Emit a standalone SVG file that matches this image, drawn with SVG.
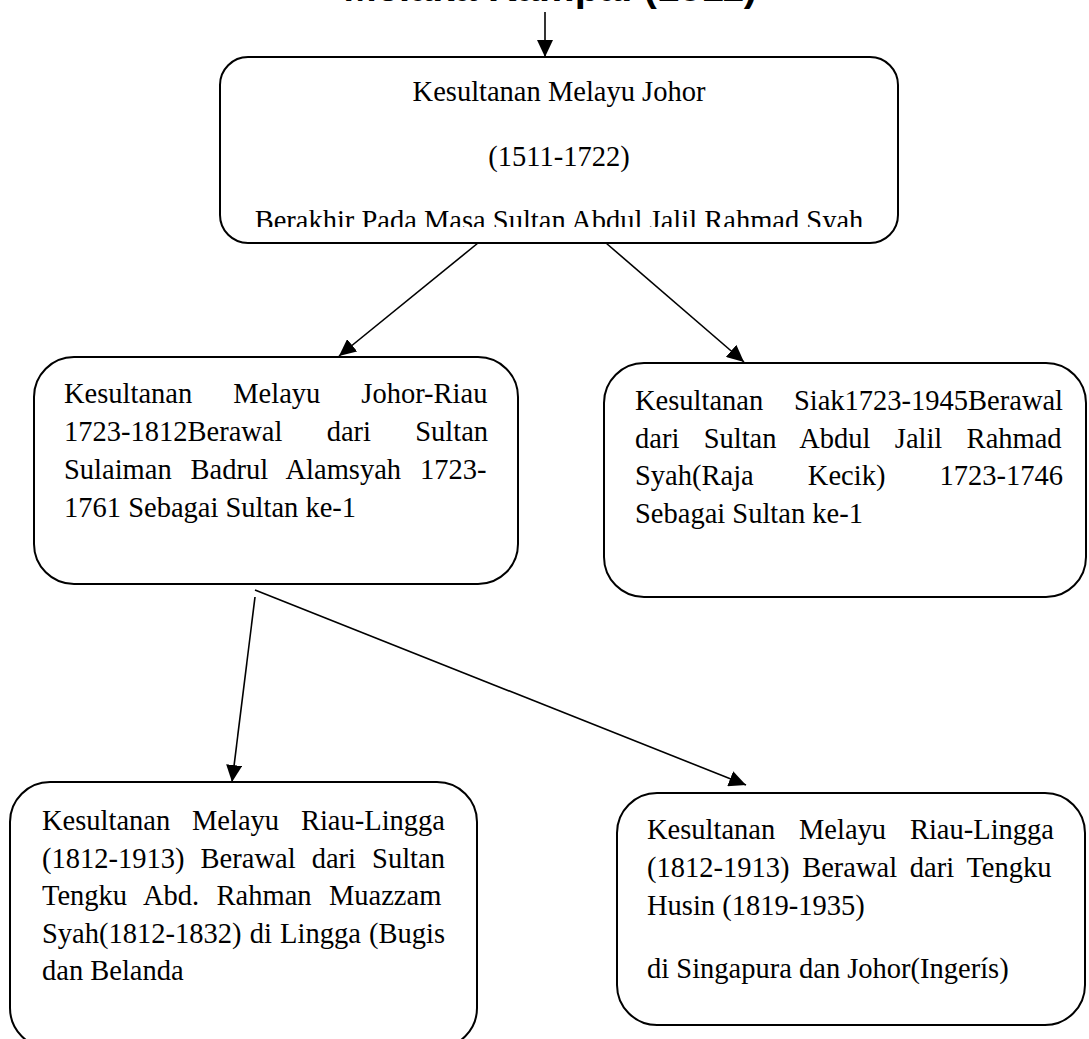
<svg xmlns="http://www.w3.org/2000/svg" width="1089" height="1039" viewBox="0 0 1089 1039">
<defs>
<style>
.box{fill:#fff;stroke:#000;stroke-width:2}
.t{font-family:"Liberation Serif","Times New Roman",serif;font-size:28.5px;fill:#000}
.c{stroke:#000;stroke-width:1.6;fill:none;marker-end:url(#ah)}
.h{font-family:"Liberation Sans",Arial,sans-serif;font-weight:bold;font-size:40px;fill:#000}
</style>
<marker id="ah" markerUnits="userSpaceOnUse" markerWidth="17" markerHeight="16" refX="17" refY="8" orient="auto" viewBox="0 0 17 16"><path d="M0,0 L17,8 L0,16 z" fill="#000"/></marker>
<clipPath id="clipTop"><rect x="220" y="57" width="678" height="170"/></clipPath>
</defs>
<rect width="1089" height="1039" fill="#fff"/>
<text class="h" x="757" y="1" text-anchor="end">Melaka Kampai (1511)</text>
<g id="connectors">
<path class="c" d="M545,12 L545,57"/>
<path class="c" d="M478,243 L339,356"/>
<path class="c" d="M606,243 L744,362"/>
<path class="c" d="M255,597 L232,782"/>
<path class="c" d="M255,590 L746,785"/>
</g>
<g id="node-johor">
<rect class="box" x="220" y="57" width="678" height="186" rx="28"/>
<text class="t" x="559" y="101" text-anchor="middle">Kesultanan Melayu Johor</text>
<text class="t" x="559" y="166" text-anchor="middle">(1511-1722)</text>
<text class="t" x="559" y="230" text-anchor="middle" clip-path="url(#clipTop)">Berakhir Pada Masa Sultan Abdul Jalil Rahmad Syah</text>
</g>
<g id="node-johor-riau">
<rect class="box" x="34" y="357" width="484" height="227" rx="40"/>
<text class="t" x="64" y="403" word-spacing="33.9">Kesultanan Melayu Johor-Riau</text>
<text class="t" x="64" y="441" word-spacing="37.1">1723-1812Berawal dari Sultan</text>
<text class="t" x="64" y="479" word-spacing="11.8">Sulaiman Badrul Alamsyah 1723-</text>
<text class="t" x="64" y="517">1761 Sebagai Sultan ke-1</text>
</g>
<g id="node-siak">
<rect class="box" x="604" y="363" width="482" height="234" rx="40"/>
<text class="t" x="635" y="410" word-spacing="23.6">Kesultanan Siak1723-1945Berawal</text>
<text class="t" x="635" y="448" word-spacing="17.2">dari Sultan Abdul Jalil Rahmad</text>
<text class="t" x="635" y="485" word-spacing="47">Syah(Raja Kecik) 1723-1746</text>
<text class="t" x="635" y="523">Sebagai Sultan ke-1</text>
</g>
<g id="node-riau-lingga">
<rect class="box" x="10" y="782" width="467" height="266" rx="40"/>
<text class="t" x="42" y="830" word-spacing="14.7">Kesultanan Melayu Riau-Lingga</text>
<text class="t" x="42" y="868" word-spacing="9">(1812-1913) Berawal dari Sultan</text>
<text class="t" x="42" y="905" word-spacing="10.3">Tengku Abd. Rahman Muazzam</text>
<text class="t" x="42" y="943" word-spacing="1.1">Syah(1812-1832) di Lingga (Bugis</text>
<text class="t" x="42" y="980">dan Belanda</text>
</g>
<g id="node-singapura">
<rect class="box" x="617" y="793" width="468" height="232" rx="40"/>
<text class="t" x="647" y="839" word-spacing="16.7">Kesultanan Melayu Riau-Lingga</text>
<text class="t" x="647" y="877" word-spacing="5.6">(1812-1913) Berawal dari Tengku</text>
<text class="t" x="647" y="915">Husin (1819-1935)</text>
<text class="t" x="647" y="978">di Singapura dan Johor(Ingerís)</text>
</g>
</svg>
